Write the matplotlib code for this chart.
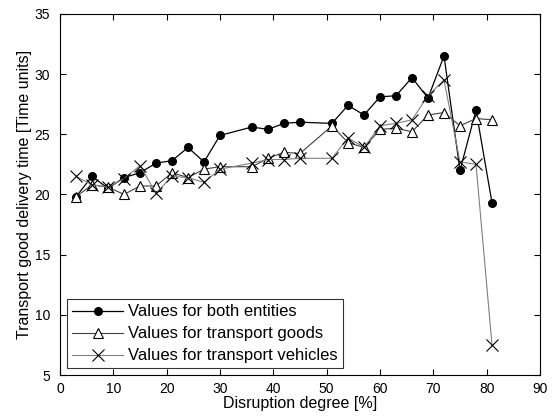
import numpy as np
import matplotlib
matplotlib.use("Agg")
import matplotlib.pyplot as plt

plt.rcParams['font.family'] = ['Liberation Sans', 'DejaVu Sans']

#-- Data
xBoth = [3, 6, 9, 12, 15, 18, 21, 24, 27, 30, 36, 39, 42, 45,
         51, 54, 57, 60, 63, 66, 69, 72, 75, 78, 81]
yBoth = [19.8, 21.5, 20.5, 21.4, 21.8, 22.6, 22.8, 23.9, 22.7, 24.9, 25.6, 25.4, 25.9, 26.0,
         25.9, 27.4, 26.6, 28.1, 28.2, 29.7, 28.0, 31.5, 22.0, 27.0, 19.3]

xGoods = [3, 6, 9, 12, 15, 18, 21, 24, 27, 30, 36, 39, 42, 45,
          51, 54, 57, 60, 63, 66, 69, 72, 75, 78, 81]
yGoods = [19.8, 20.8, 20.6, 20.0, 20.7, 20.7, 21.8, 21.4, 22.1, 22.3, 22.3, 23.0, 23.5, 23.4,
          25.7, 24.3, 23.9, 25.4, 25.5, 25.2, 26.6, 26.8, 25.7, 26.3, 26.2]

xVehicles = [3, 6, 9, 12, 15, 18, 21, 24, 27, 30, 36, 39, 42, 45,
             51, 54, 57, 60, 63, 66, 69, 72, 75, 78, 81]
yVehicles = [21.5, 20.8, 20.6, 21.3, 22.4, 20.1, 21.5, 21.4, 21.0, 22.1, 22.6, 22.9, 22.9, 23.0,
             23.0, 24.7, 23.9, 25.7, 25.9, 26.2, 28.2, 29.5, 22.7, 22.5, 7.5]

labels = ['Values for both entities', 'Values for transport goods',
          'Values for transport vehicles']

#-- Figure
fig = plt.figure(figsize=(5.53, 4.19), dpi=100)
ax = fig.add_axes([0.1085, 0.105, 0.868, 0.862])

ax.plot(xBoth, yBoth, '-o', color='black', lw=0.9, ms=5.5,
        mfc='black', mec='black', label=labels[0])
ax.plot(xGoods, yGoods, '-^', color='#404040', lw=0.8, ms=7.5,
        mfc='white', mec='black', mew=0.8, label=labels[1])
ax.plot(xVehicles, yVehicles, '-x', color='#808080', lw=0.8, ms=8,
        mec='black', mew=0.8, label=labels[2])

ax.set_xlim(0, 90)
ax.set_ylim(5, 35)
ax.set_xticks(np.arange(0, 91, 10))
ax.set_yticks(np.arange(5, 36, 5))
ax.tick_params(direction='in', top=True, right=True, labelsize=10, length=4)
ax.tick_params(axis='y', pad=7)
ax.tick_params(axis='x', pad=5)
for sp in ax.spines.values():
    sp.set_linewidth(0.8)

ax.set_xlabel('Disruption degree [%]', fontsize=11.5, labelpad=0)
ax.set_ylabel('Transport good delivery time [Time units]', fontsize=11.5, labelpad=2)

leg = ax.legend(loc='lower left', fontsize=12, frameon=True, fancybox=False,
                handlelength=3.1, handletextpad=0.3, borderpad=0.3,
                labelspacing=0.42, borderaxespad=0.4)
leg.get_frame().set_edgecolor('black')
leg.get_frame().set_linewidth(0.8)

fig.savefig('out.png', dpi=100)
